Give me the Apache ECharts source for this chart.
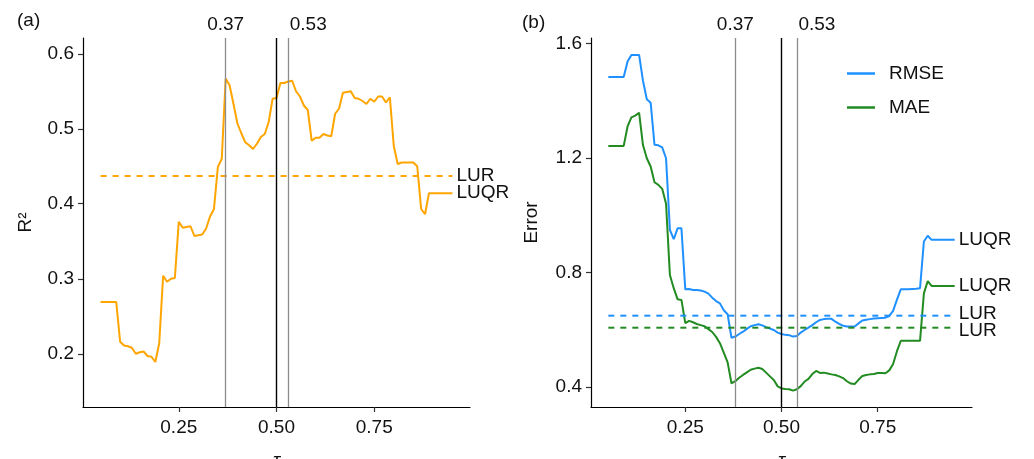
<!DOCTYPE html>
<html>
<head>
<meta charset="utf-8">
<script src="https://cdn.jsdelivr.net/npm/echarts@6/dist/echarts.min.js"></script>
<style>
  html, body { margin: 0; padding: 0; background: #fff; }
  #main { width: 1034px; height: 459px; }
</style>
</head>
<body>
<div id="main"></div>
<script>
// quantile levels
var tau = [0.05, 0.06, 0.07, 0.08, 0.09, 0.10, 0.11, 0.12, 0.13, 0.14,
  0.15, 0.16, 0.17, 0.18, 0.19, 0.20, 0.21, 0.22, 0.23, 0.24,
  0.25, 0.26, 0.27, 0.28, 0.29, 0.30, 0.31, 0.32, 0.33, 0.34,
  0.35, 0.36, 0.37, 0.38, 0.39, 0.40, 0.41, 0.42, 0.43, 0.44,
  0.45, 0.46, 0.47, 0.48, 0.49, 0.50, 0.51, 0.52, 0.53, 0.54,
  0.55, 0.56, 0.57, 0.58, 0.59, 0.60, 0.61, 0.62, 0.63, 0.64,
  0.65, 0.66, 0.67, 0.68, 0.69, 0.70, 0.71, 0.72, 0.73, 0.74,
  0.75, 0.76, 0.77, 0.78, 0.79, 0.80, 0.81, 0.82, 0.83, 0.84,
  0.85, 0.86, 0.87, 0.88, 0.89, 0.90, 0.91, 0.92, 0.93, 0.94, 0.95];

// (a) R2 of LUQR
var r2 = [0.269, 0.269, 0.269, 0.269, 0.269, 0.216, 0.211, 0.210, 0.208, 0.200,
  0.202, 0.203, 0.197, 0.196, 0.189, 0.214, 0.304, 0.296, 0.300, 0.301,
  0.376, 0.368, 0.369, 0.370, 0.357, 0.358, 0.359, 0.367, 0.383, 0.393,
  0.449, 0.460, 0.567, 0.558, 0.533, 0.507, 0.494, 0.482, 0.478, 0.473,
  0.480, 0.489, 0.493, 0.509, 0.540, 0.541, 0.561, 0.561, 0.563, 0.564,
  0.550, 0.543, 0.531, 0.525, 0.484, 0.488, 0.488, 0.493, 0.491, 0.490,
  0.520, 0.527, 0.548, 0.549, 0.550, 0.541, 0.540, 0.537, 0.533, 0.540,
  0.536, 0.543, 0.543, 0.535, 0.542, 0.477, 0.453, 0.455, 0.455, 0.455,
  0.455, 0.450, 0.393, 0.386, 0.414, 0.414, 0.414, 0.414, 0.414, 0.414, 0.414];

// (b) errors of LUQR
var rmse = [1.483, 1.483, 1.483, 1.483, 1.483, 1.537, 1.560, 1.560, 1.560, 1.470,
  1.405, 1.393, 1.246, 1.244, 1.237, 1.199, 0.949, 0.916, 0.954, 0.954,
  0.741, 0.742, 0.739, 0.739, 0.737, 0.733, 0.726, 0.712, 0.700, 0.692,
  0.668, 0.654, 0.572, 0.576, 0.585, 0.593, 0.603, 0.612, 0.616, 0.619,
  0.615, 0.609, 0.604, 0.599, 0.590, 0.585, 0.582, 0.581, 0.576, 0.578,
  0.590, 0.599, 0.607, 0.616, 0.626, 0.634, 0.637, 0.638, 0.638, 0.628,
  0.620, 0.614, 0.611, 0.611, 0.611, 0.622, 0.632, 0.635, 0.637, 0.639,
  0.640, 0.641, 0.642, 0.648, 0.666, 0.705, 0.741, 0.741, 0.741, 0.742,
  0.743, 0.745, 0.908, 0.928, 0.914, 0.914, 0.914, 0.914, 0.914, 0.914, 0.914];

var mae = [1.242, 1.242, 1.242, 1.242, 1.242, 1.310, 1.342, 1.348, 1.358, 1.245,
  1.199, 1.170, 1.115, 1.106, 1.092, 1.040, 0.791, 0.745, 0.706, 0.704,
  0.623, 0.631, 0.626, 0.620, 0.616, 0.612, 0.602, 0.592, 0.575, 0.553,
  0.520, 0.486, 0.413, 0.420, 0.432, 0.442, 0.451, 0.460, 0.464, 0.467,
  0.463, 0.450, 0.437, 0.424, 0.402, 0.395, 0.393, 0.392, 0.387, 0.392,
  0.403, 0.419, 0.428, 0.445, 0.456, 0.449, 0.450, 0.447, 0.444, 0.442,
  0.437, 0.431, 0.420, 0.412, 0.410, 0.425, 0.438, 0.442, 0.444, 0.445,
  0.449, 0.449, 0.448, 0.458, 0.480, 0.525, 0.561, 0.561, 0.561, 0.561,
  0.561, 0.561, 0.727, 0.770, 0.753, 0.753, 0.753, 0.753, 0.753, 0.753, 0.753];

// LUR reference levels
var lurR2 = 0.437;
var lurRmse = 0.649;
var lurMae = 0.607;
var lurSpan = [0.05, 0.95];

// tick labels
var xTicks = [0.25, 0.5, 0.75];
var yTicksA = [0.2, 0.3, 0.4, 0.5, 0.6];
var yTicksB = [0.4, 0.8, 1.2, 1.6];

// vertical reference lines
var vLinesA = [0.37, 0.50, 0.53];
var vLinesB = [0.375, 0.50, 0.535];
var vLabels = ['0.37', '', '0.53'];

var FONT = 'Liberation Sans, Arial, sans-serif';
var FS = 19;
var TXT = '#111';
var ORANGE = '#FFA500', BLUE = '#1E90FF', GREEN = '#228B22';

function pairs(arr) {
  return tau.map(function(t, i) { return [t, arr[i]]; });
}

function flat(v) {
  return lurSpan.map(function(t) { return [t, v]; });
}

function vMarks(pos) {
  return pos.map(function(p, i) {
    var black = i == 1;
    return {
      xAxis: p,
      lineStyle: { color: black ? '#000' : '#8c8c8c', width: black ? 1.4 : 1.3, type: 'solid' },
      label: {
        show: !black,
        formatter: vLabels[i],
        position: 'end',
        fontSize: FS,
        fontFamily: FONT,
        color: TXT,
        distance: 4,
        offset: i == 2 ? [20, 0] : [0, 0]
      }
    };
  });
}

function xAxis(idx) {
  return {
    type: 'value',
    gridIndex: idx,
    min: 0.005,
    max: 0.995,
    name: 'τ',
    nameLocation: 'middle',
    nameGap: 44,
    nameTextStyle: { fontSize: FS, fontFamily: FONT, color: TXT, fontStyle: 'italic' },
    splitLine: { show: false },
    axisLine: { lineStyle: { color: '#000', width: 1.2 } },
    axisTick: { show: true, length: 5, customValues: xTicks, lineStyle: { color: '#333', width: 1.2 } },
    axisLabel: {
      customValues: xTicks, margin: 11, fontSize: FS, fontFamily: FONT, color: TXT,
      formatter: function(v) { return v.toFixed(2); }
    }
  };
}

function yAxis(idx, min, max, ticks, name, gap) {
  return {
    type: 'value',
    gridIndex: idx,
    min: min,
    max: max,
    name: name,
    nameLocation: 'middle',
    nameGap: gap,
    nameTextStyle: { fontSize: FS, fontFamily: FONT, color: TXT },
    splitLine: { show: false },
    axisLine: { show: true, lineStyle: { color: '#000', width: 1.2 } },
    axisTick: { show: true, length: 5, customValues: ticks, lineStyle: { color: '#333', width: 1.2 } },
    axisLabel: {
      customValues: ticks, margin: 9, fontSize: FS, fontFamily: FONT, color: TXT,
      formatter: function(v) { return String(+v.toFixed(1)); }
    }
  };
}

function endLab(text, dy) {
  return {
    show: true,
    formatter: text,
    fontSize: FS,
    fontFamily: FONT,
    color: TXT,
    distance: 4,
    offset: [0, dy || 0]
  };
}

var chart = echarts.init(document.getElementById('main'));
chart.setOption({
  animation: false,
  backgroundColor: '#fff',
  title: [
    { text: '(a)', left: 12, top: 6, textStyle: { fontSize: FS, fontWeight: 'normal', fontFamily: FONT, color: TXT } },
    { text: '(b)', left: 517, top: 8, textStyle: { fontSize: FS, fontWeight: 'normal', fontFamily: FONT, color: TXT } }
  ],
  legend: {
    data: [{ name: 'RMSE', icon: 'rect' }, { name: 'MAE', icon: 'rect' }],
    orient: 'vertical',
    left: 842,
    top: 59,
    itemWidth: 28,
    itemHeight: 2.5,
    itemGap: 15,
    textStyle: { fontSize: FS, fontFamily: FONT, color: TXT, padding: [0, 0, 0, 9] }
  },
  grid: [
    { left: 83, top: 38, width: 387, height: 369, outerBoundsMode: 'none', containLabel: false },
    { left: 591, top: 38, width: 381, height: 369, outerBoundsMode: 'none', containLabel: false }
  ],
  xAxis: [xAxis(0), xAxis(1)],
  yAxis: [
    yAxis(0, 0.129, 0.621, yTicksA, 'R²', 48),
    yAxis(1, 0.330, 1.619, yTicksB, 'Error', 50)
  ],
  series: [
    {
      name: 'R2', type: 'line', xAxisIndex: 0, yAxisIndex: 0,
      data: pairs(r2), showSymbol: false,
      lineStyle: { color: ORANGE, width: 2 }, itemStyle: { color: ORANGE },
      endLabel: endLab('LUQR', 0),
      markLine: { symbol: 'none', silent: true, data: vMarks(vLinesA) }
    },
    {
      name: 'LUR R2', type: 'line', xAxisIndex: 0, yAxisIndex: 0,
      data: flat(lurR2), showSymbol: false,
      lineStyle: { color: ORANGE, width: 2, type: [6, 6] }, itemStyle: { color: ORANGE },
      endLabel: endLab('LUR', 0)
    },
    {
      name: 'RMSE', type: 'line', xAxisIndex: 1, yAxisIndex: 1,
      data: pairs(rmse), showSymbol: false,
      lineStyle: { color: BLUE, width: 2 }, itemStyle: { color: BLUE },
      endLabel: endLab('LUQR', 0),
      markLine: { symbol: 'none', silent: true, data: vMarks(vLinesB) }
    },
    {
      name: 'MAE', type: 'line', xAxisIndex: 1, yAxisIndex: 1,
      data: pairs(mae), showSymbol: false,
      lineStyle: { color: GREEN, width: 2 }, itemStyle: { color: GREEN },
      endLabel: endLab('LUQR', 0)
    },
    {
      name: 'LUR RMSE', type: 'line', xAxisIndex: 1, yAxisIndex: 1,
      data: flat(lurRmse), showSymbol: false,
      lineStyle: { color: BLUE, width: 2, type: [6, 6] }, itemStyle: { color: BLUE },
      endLabel: endLab('LUR', -2)
    },
    {
      name: 'LUR MAE', type: 'line', xAxisIndex: 1, yAxisIndex: 1,
      data: flat(lurMae), showSymbol: false,
      lineStyle: { color: GREEN, width: 2, type: [6, 6] }, itemStyle: { color: GREEN },
      endLabel: endLab('LUR', 3)
    }
  ]
});
</script>
</body>
</html>
